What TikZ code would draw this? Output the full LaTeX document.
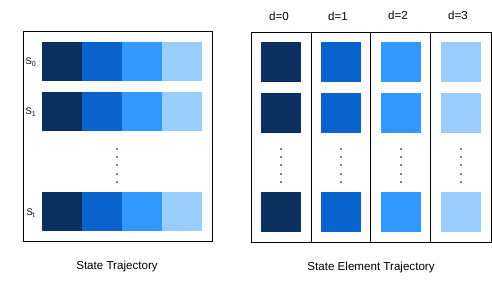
\documentclass[tikz,border=0pt]{standalone}
\usepackage{fontspec}
\setmainfont{Liberation Sans}
\definecolor{cA}{HTML}{0B2F5E}
\definecolor{cB}{HTML}{0A62CC}
\definecolor{cC}{HTML}{3399FF}
\definecolor{cD}{HTML}{99CCFF}
\begin{document}
\begin{tikzpicture}[x=1pt,y=-1pt,
  frame/.style={draw=black,line width=0.8pt},
  cell/.style={draw=none,minimum width=40pt,minimum height=39pt,inner sep=0pt,anchor=north west},
  sq/.style={draw=none,minimum width=40pt,minimum height=40pt,inner sep=0pt,anchor=north west},
  dot/.style={circle,fill=black,inner sep=0pt,minimum size=1.6pt},
  lbl/.style={font=\fontsize{11.6}{13}\selectfont,inner sep=0pt},
  slbl/.style={font=\fontsize{9.5}{10}\selectfont,inner sep=0pt}]
\useasboundingbox (0,0) rectangle (492,283);
% left frame
\draw[frame] (23,31) rectangle (212,241);
\foreach \r/\y in {0/42,1/92,2/192}{
  \node[cell,fill=cA] (l\r a) at (42,\y) {};
  \node[cell,fill=cB] (l\r b) at (82,\y) {};
  \node[cell,fill=cC] (l\r c) at (122,\y) {};
  \node[cell,fill=cD] (l\r d) at (162,\y) {};
}
\node[slbl] (s0) at (31,62) {S\textsubscript{\scriptsize 0}};
\node[slbl] (s1) at (31,112) {S\textsubscript{\scriptsize 1}};
\node[slbl] (st) at (31,213) {S\textsubscript{\scriptsize t}};
\foreach \i/\y in {1/149,2/157,3/165,4/174,5/182}{
  \node[dot] (ld\i) at (117,\y) {};
}
\node[lbl] (cap1) at (117,266) {State Trajectory};
% right frame
\draw[frame] (251,32) rectangle (491,242);
\draw[frame] (311,32) -- (311,242);
\draw[frame] (370,32) -- (370,242);
\draw[frame] (430,32) -- (430,242);
\foreach \c/\x/\col/\dx in {0/261/cA/281,1/321/cB/341,2/381/cC/401,3/441/cD/461}{
  \node[sq,fill=\col] (r\c a) at (\x,42) {};
  \node[sq,fill=\col] (r\c b) at (\x,93) {};
  \node[sq,fill=\col] (r\c c) at (\x,192) {};
  \foreach \i/\y in {1/149,2/157,3/165,4/174,5/182}{
    \node[dot] (rd\c\i) at (\dx,\y) {};
  }
}
\node[lbl] (d0) at (279,16) {d=0};
\node[lbl] (d1) at (338,16) {d=1};
\node[lbl] (d2) at (398,15) {d=2};
\node[lbl] (d3) at (458,15) {d=3};
\node[lbl] (cap2) at (371,267) {State Element Trajectory};
\end{tikzpicture}
\end{document}
